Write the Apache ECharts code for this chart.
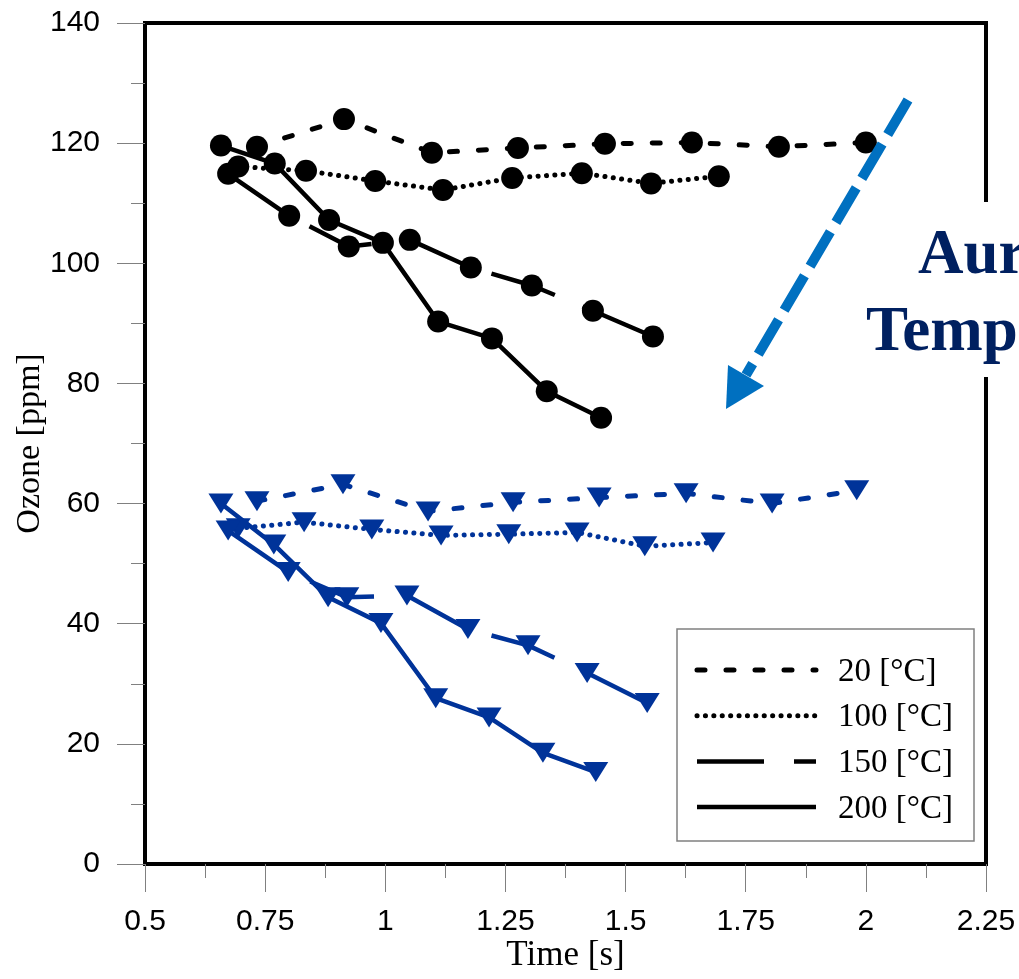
<!DOCTYPE html>
<html><head><meta charset="utf-8">
<script src="https://cdn.jsdelivr.net/npm/echarts@6/dist/echarts.min.js"></script>
<style>html,body{margin:0;padding:0;background:#fff}#c{width:1019px;height:979px}</style>
</head><body><div id="c"></div>
<script>
// ---- data ----
const legendLabels = ['20 [°C]', '100 [°C]', '150 [°C]', '200 [°C]'];
const xTicks = [0.5, 0.75, 1, 1.25, 1.5, 1.75, 2, 2.25];
const yTicks = [0, 20, 40, 60, 80, 100, 120, 140];

// black circles (upper group)
const tBlack20  = [0.733, 0.914, 1.097, 1.276, 1.457, 1.638, 1.819, 2.000];
const oBlack20  = [119.4, 124.0, 118.4, 119.2, 119.9, 120.1, 119.4, 120.1];
const tBlack100 = [0.694, 0.835, 0.979, 1.120, 1.264, 1.409, 1.553, 1.694];
const oBlack100 = [116.1, 115.4, 113.7, 112.2, 114.2, 115.0, 113.3, 114.5];
const tBlack150 = [0.673, 0.800, 0.924, 1.051, 1.178, 1.305, 1.432, 1.557];
const oBlack150 = [114.9, 107.9, 102.8, 103.9, 99.3, 96.3, 92.1, 87.8];
const tBlack200 = [0.658, 0.770, 0.883, 0.995, 1.110, 1.222, 1.336, 1.449];
const oBlack200 = [119.6, 116.6, 107.2, 103.4, 90.3, 87.5, 78.7, 74.3];

// blue triangles (lower group)
const tBlue20  = [0.733, 0.912, 1.089, 1.266, 1.445, 1.626, 1.805, 1.981];
const oBlue20  = [60.4, 63.2, 58.7, 60.2, 61.0, 61.7, 60.0, 62.2];
const tBlue100 = [0.694, 0.831, 0.972, 1.116, 1.257, 1.399, 1.540, 1.682];
const oBlue100 = [55.9, 56.9, 55.7, 54.7, 54.9, 55.2, 52.9, 53.5];
const tBlue150 = [0.673, 0.798, 0.920, 1.045, 1.172, 1.297, 1.420, 1.545];
const oBlue150 = [55.5, 48.6, 44.4, 44.7, 39.1, 36.4, 31.8, 26.8];
const tBlue200 = [0.658, 0.768, 0.881, 0.991, 1.105, 1.216, 1.328, 1.438];
const oBlue200 = [60.0, 53.2, 44.4, 40.1, 27.6, 24.4, 18.5, 15.3];

// ---- styles ----
const BLACK = '#000000', BLUE = '#003399';
const lineTypes = [
  {type: [8, 21], cap: 'round', width: 5},
  {type: [0.1, 8.3], cap: 'round', width: 5},
  {type: [67, 30], cap: 'butt', width: 4.5},
  {type: 'solid', cap: 'butt', width: 4.5}
];

function zip(xs, ys) { return xs.map((x, i) => [x, ys[i]]); }

function mk(name, xs, ys, color, idx, isTri) {
  const lt = lineTypes[idx];
  return {
    name: name, type: 'line', data: zip(xs, ys),
    symbol: isTri ? 'triangle' : 'circle',
    symbolSize: isTri ? [25, 20] : 22,
    symbolRotate: isTri ? 180 : 0,
    itemStyle: {color: color},
    lineStyle: {color: color, width: lt.width, type: lt.type, cap: lt.cap},
    z: 3
  };
}

const series = [
  mk(legendLabels[0], tBlack20, oBlack20, BLACK, 0, false),
  mk(legendLabels[1], tBlack100, oBlack100, BLACK, 1, false),
  mk(legendLabels[2], tBlack150, oBlack150, BLACK, 2, false),
  mk(legendLabels[3], tBlack200, oBlack200, BLACK, 3, false),
  mk(legendLabels[0], tBlue20, oBlue20, BLUE, 0, true),
  mk(legendLabels[1], tBlue100, oBlue100, BLUE, 1, true),
  mk(legendLabels[2], tBlue150, oBlue150, BLUE, 2, true),
  mk(legendLabels[3], tBlue200, oBlue200, BLUE, 3, true)
];

// ---- legend & annotation graphics ----
const graphics = [];
graphics.push({type: 'rect', shape: {x: 677, y: 629, width: 297, height: 212},
  style: {fill: '#fff', stroke: '#808080', lineWidth: 1.5}, z: 50});
legendLabels.forEach((lab, i) => {
  const y = 670 + i * 45.7;
  const lt = lineTypes[i];
  graphics.push({type: 'line', shape: {x1: 697, y1: y, x2: 816, y2: y},
    style: {stroke: BLACK, lineWidth: lt.width, lineDash: lt.type === 'solid' ? null : lt.type, lineCap: lt.cap}, z: 51});
  graphics.push({type: 'text', x: 838, y: y + 2,
    style: {text: lab, font: '33px "Liberation Serif"', fill: '#000', verticalAlign: 'middle', align: 'left'}, z: 51});
});
// arrow
graphics.push({type: 'line', shape: {x1: 908, y1: 100, x2: 746, y2: 375},
  style: {stroke: '#0070C0', lineWidth: 10, lineDash: [40, 11]}, z: 60});
graphics.push({type: 'polygon', shape: {points: [[726, 409], [728, 365], [764, 386]]},
  style: {fill: '#0070C0'}, z: 60});
// white box breaking the frame, with text
graphics.push({type: 'rect', shape: {x: 858, y: 202, width: 161, height: 175},
  style: {fill: '#fff'}, z: 70});
graphics.push({type: 'text', x: 918, y: 257,
  style: {text: 'Aur', font: 'bold 63px "Liberation Serif"', fill: '#002060', verticalAlign: 'middle', align: 'left'}, z: 71});
graphics.push({type: 'text', x: 866, y: 334,
  style: {text: 'Temp', font: 'bold 63px "Liberation Serif"', fill: '#002060', verticalAlign: 'middle', align: 'left'}, z: 71});

const chart = echarts.init(document.getElementById('c'), null, {renderer: 'canvas'});
chart.setOption({
  animation: false,
  backgroundColor: '#fff',
  grid: {left: 145, top: 23, right: 33, bottom: 115, containLabel: false, outerBoundsMode: 'none',
    show: true, borderColor: '#000', borderWidth: 4, backgroundColor: 'transparent'},
  xAxis: {
    type: 'value', min: xTicks[0], max: xTicks[xTicks.length - 1], interval: xTicks[1] - xTicks[0],
    name: 'Time [s]', nameLocation: 'middle', nameGap: 74, nameMoveOverlap: false,
    nameTextStyle: {fontFamily: 'Liberation Serif', fontSize: 35, color: '#000'},
    axisLine: {show: false},
    axisTick: {show: true, inside: false, length: 28, lineStyle: {color: '#808080', width: 1}},
    minorTick: {show: true, splitNumber: 2, length: 14, lineStyle: {color: '#808080', width: 1}},
    splitLine: {show: false},
    axisLabel: {margin: 43, fontFamily: 'Liberation Sans', fontSize: 30, color: '#000',
      formatter: v => String(+v.toFixed(2))}
  },
  yAxis: {
    type: 'value', min: yTicks[0], max: yTicks[yTicks.length - 1], interval: yTicks[1] - yTicks[0],
    name: 'Ozone [ppm]', nameLocation: 'middle', nameGap: 98, nameMoveOverlap: false,
    nameTextStyle: {fontFamily: 'Liberation Serif', fontSize: 34, color: '#000'},
    axisLine: {show: false},
    axisTick: {show: true, inside: false, length: 28, lineStyle: {color: '#808080', width: 1}},
    minorTick: {show: true, splitNumber: 2, length: 14, lineStyle: {color: '#808080', width: 1}},
    splitLine: {show: false},
    axisLabel: {margin: 45, fontFamily: 'Liberation Sans', fontSize: 30, color: '#000'}
  },
  series: series,
  graphic: graphics
});
</script>
</body></html>
